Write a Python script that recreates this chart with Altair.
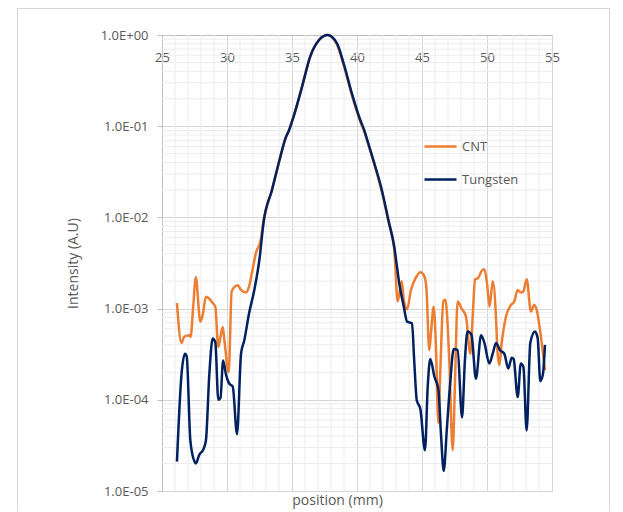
import altair as alt
import pandas as pd

# ---- data ----
cnt_x = [26.15, 26.5, 26.7, 27.1, 27.2, 27.4, 27.6, 27.95, 28.13, 28.38, 28.6, 28.9, 29.1,
         29.33, 29.5, 29.67, 29.8, 30.13, 30.36, 30.82, 31.08, 31.46, 31.7, 31.97, 32.23,
         32.6, 32.82, 33.46, 34.1, 34.49, 34.78, 35.12, 35.77, 36.4, 37.08, 37.73, 38.46,
         38.97, 39.6, 40.25, 40.55, 40.76, 41.27, 41.91, 42.42, 42.86, 43.13, 43.44, 43.6,
         43.85, 44.15, 44.54, 44.87, 45.13, 45.33, 45.56, 45.69, 45.9, 46.08, 46.26, 46.4,
         46.64, 46.8, 47.1, 47.36, 47.54, 47.74, 48.05, 48.38, 48.72, 48.9, 49.08, 49.3,
         49.6, 49.8, 50.0, 50.2, 50.44, 50.7, 50.8, 50.95, 51.13, 51.46, 51.85, 52.1, 52.36,
         52.6, 52.8, 53.05, 53.38, 53.64, 53.85, 54.15, 54.46]
cnt_y = [1.15e-3, 4.2e-4, 4.9e-4, 5.1e-4, 4.9e-4, 1.05e-3, 2.2e-3, 7.2e-4, 8.5e-4, 1.35e-3,
         1.3e-3, 1.15e-3, 1.05e-3, 3.8e-4, 4.9e-4, 6.3e-4, 4.5e-4, 2.0e-4, 1.55e-3, 1.8e-3,
         1.6e-3, 1.5e-3, 1.75e-3, 2.7e-3, 4.1e-3, 5.7e-3, 9.3e-3, 0.02, 0.046, 0.073, 0.091,
         0.127, 0.27, 0.58, 0.88, 1.0, 0.79, 0.47, 0.22, 0.113, 0.088, 0.071, 0.041, 0.019,
         0.009, 0.0046, 1.2e-3, 2.0e-3, 1.25e-3, 9.8e-4, 1.6e-3, 2.2e-3, 2.5e-3, 2.35e-3,
         1.75e-3, 3.5e-4, 5.4e-4, 1.05e-3, 3.5e-4, 5.6e-5, 1.9e-4, 1.2e-3, 1.25e-3, 2.7e-4,
         2.8e-5, 1.6e-4, 1.2e-3, 1.0e-3, 8.2e-4, 3.2e-4, 8.2e-4, 2.1e-3, 2.15e-3, 2.6e-3,
         2.7e-3, 1.9e-3, 1.05e-3, 2.0e-3, 7.6e-4, 3.5e-4, 2.4e-4, 4.2e-4, 8.2e-4, 1.1e-3,
         1.2e-3, 1.6e-3, 1.5e-3, 1.55e-3, 2.1e-3, 9.3e-4, 1.1e-3, 9.3e-4, 4.9e-4, 2.1e-4]

tung_x = [26.15, 26.5, 26.77, 26.9, 27.18, 27.5, 27.6, 27.87, 28.2, 28.38, 28.64, 28.9, 29.1,
          29.33, 29.5, 29.7, 29.92, 30.18, 30.44, 30.77, 31.08, 31.33, 31.7, 32.1, 32.5,
          32.82, 33.46, 34.1, 34.49, 34.78, 35.12, 35.77, 36.4, 37.08, 37.73, 38.46, 38.97,
          39.6, 40.25, 40.55, 40.76, 41.27, 41.91, 42.42, 42.86, 43.25, 43.6, 43.85, 44.23,
          44.4, 44.6, 44.87, 45.23, 45.44, 45.64, 45.95, 46.26, 46.46, 46.67, 46.92, 47.18,
          47.44, 47.74, 48.08, 48.3, 48.5, 48.8, 49.15, 49.54, 49.8, 50.18, 50.44, 50.7,
          51.0, 51.33, 51.64, 51.9, 52.05, 52.36, 52.6, 52.8, 53.05, 53.33, 53.69, 53.9,
          54.1, 54.3, 54.46]
tung_y = [2.1e-5, 1.9e-4, 3.2e-4, 3.0e-4, 3.6e-5, 2.1e-5, 2.0e-5, 2.5e-5, 2.9e-5, 3.6e-5,
          1.9e-4, 4.7e-4, 4.3e-4, 1.0e-4, 1.05e-4, 2.7e-4, 1.9e-4, 1.5e-4, 1.4e-4, 4.2e-5,
          3.2e-4, 4.5e-4, 8.9e-4, 1.6e-3, 3.5e-3, 9.0e-3, 0.02, 0.046, 0.073, 0.091, 0.127,
          0.27, 0.58, 0.88, 1.0, 0.81, 0.49, 0.23, 0.117, 0.091, 0.073, 0.042, 0.02, 0.0093,
          0.0048, 1.9e-3, 1.05e-3, 7.2e-4, 6.9e-4, 2.7e-4, 9.8e-5, 8.0e-5, 2.8e-5, 1.4e-4,
          2.8e-4, 1.8e-4, 1.3e-4, 4.2e-5, 1.66e-5, 5.0e-5, 1.6e-4, 3.6e-4, 3.5e-4, 6.4e-5,
          2.7e-4, 5.6e-4, 5.2e-4, 1.7e-4, 5.1e-4, 4.2e-4, 2.5e-4, 3.2e-4, 4.2e-4, 3.5e-4,
          3.2e-4, 2.2e-4, 2.9e-4, 2.8e-4, 1.07e-4, 2.5e-4, 2.3e-4, 4.6e-5, 4.2e-4, 5.6e-4,
          4.7e-4, 1.6e-4, 1.9e-4, 4.0e-4]

series_names = ["CNT", "Tungsten"]
series_colors = ["#ED7D31", "#002060"]

x_major = [25, 30, 35, 40, 45, 50, 55]
x_minor = [v for v in range(26, 55) if v % 5 != 0]
y_major = [1e-5, 1e-4, 1e-3, 1e-2, 1e-1, 1.0]
y_minor = [k * 10.0 ** (-d) for d in range(1, 6) for k in range(2, 10)]

df = pd.concat([
    pd.DataFrame({"x": cnt_x, "y": cnt_y, "series": "CNT"}),
    pd.DataFrame({"x": tung_x, "y": tung_y, "series": "Tungsten"}),
])

FONT = "Open Sans"
TXT = "#595959"
W, H = 390, 456

xscale = alt.Scale(domain=[25, 55], nice=False, zero=False)
yscale = alt.Scale(type="log", domain=[1e-5, 1], nice=False)

label_expr = ("datum.value >= 1 ? '1.0E+00' : '1.0E-0' + "
              "format(-log(datum.value)/LN10, '.0f')")

xaxis = alt.Axis(values=x_major, orient="bottom", offset=-H,
                 grid=True, gridColor="#d6d6d6", ticks=False,
                 domainColor="#bfbfbf", labelColor=TXT, labelFontSize=13,
                 labelFont=FONT, labelBaseline="middle", labelPadding=22,
                 labelFlush=False,
                 title="position (mm)", titleFont=FONT, titleFontSize=14,
                 titleFontWeight="normal", titleColor=TXT,
                 titleX=175, titleY=H + 9, titleBaseline="middle")
yaxis = alt.Axis(values=y_major, labelExpr=label_expr, grid=True,
                 gridColor="#d6d6d6", domainColor="#bfbfbf",
                 tickColor="#bfbfbf", tickSize=5, labelPadding=9,
                 labelColor=TXT, labelFontSize=13, labelFont=FONT,
                 title="Intensity (A.U)", titleFont=FONT, titleFontSize=14,
                 titleFontWeight="normal", titleColor=TXT,
                 titleX=-89, titleY=228, titleAngle=270,
                 titleAlign="center", titleBaseline="middle")

xminor = alt.Chart(pd.DataFrame({"v": x_minor})).mark_rule(
    color="#ececec", strokeWidth=1
).encode(x=alt.X("v:Q", scale=xscale, axis=xaxis))

yminor = alt.Chart(pd.DataFrame({"v": y_minor})).mark_rule(
    color="#ececec", strokeWidth=1
).encode(y=alt.Y("v:Q", scale=yscale, axis=yaxis))

lines = alt.Chart(df).mark_line(strokeWidth=2.5, interpolate="monotone").encode(
    x=alt.X("x:Q", scale=xscale, axis=xaxis),
    y=alt.Y("y:Q", scale=yscale, axis=yaxis),
    color=alt.Color("series:N",
                    scale=alt.Scale(domain=series_names, range=series_colors),
                    legend=alt.Legend(title=None, orient="none", legendX=261,
                                      legendY=94, symbolType="stroke",
                                      symbolStrokeWidth=2.5, symbolSize=1024,
                                      labelFont=FONT, labelFontSize=13,
                                      labelColor=TXT, padding=0, rowPadding=8,
                                      labelOffset=4)),
)

frame = alt.Chart(pd.DataFrame({"a": [0]})).mark_rect(
    fill=None, stroke="#d4d4d4", strokeWidth=1
).encode(x=alt.value(-144.5), x2=alt.value(447.5), y=alt.value(-26.5), y2=alt.value(520))

chart = alt.layer(frame, xminor, yminor, lines).properties(
    width=W, height=H,
    autosize=alt.AutoSizeParams(type="none"),
    padding={"left": 154, "top": 27, "right": 63, "bottom": 20},
).configure_view(stroke=None).configure(background="white")

chart.save("out.html", embed_options={"renderer": "svg", "actions": False})
